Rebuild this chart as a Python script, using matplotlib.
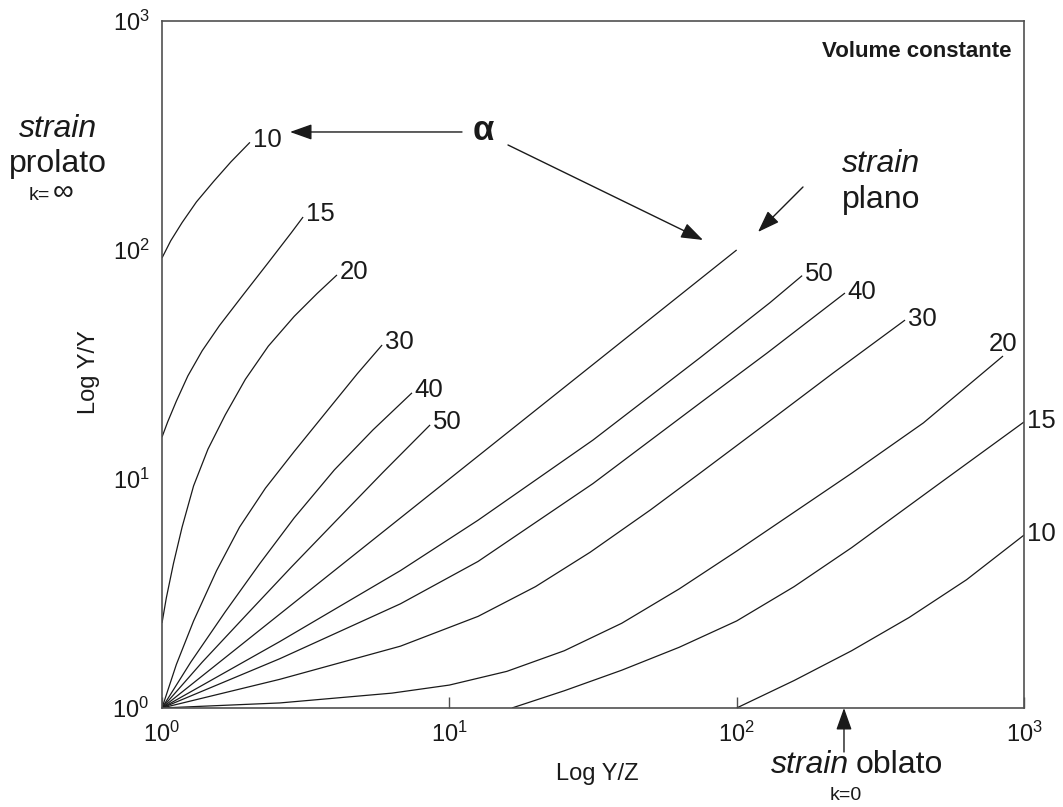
import matplotlib.pyplot as plt
from matplotlib.ticker import NullLocator

plt.rcParams['font.family'] = ['Liberation Sans', 'DejaVu Sans']
plt.rcParams['mathtext.fontset'] = 'custom'
plt.rcParams['mathtext.rm'] = 'Liberation Sans'
plt.rcParams['mathtext.it'] = 'Liberation Sans:italic'

# curvas do lado prolato (Y/Z, X/Y)
pro10_x = [1, 1.072, 1.175, 1.318, 1.514, 1.738, 2.023]
pro10_y = [92.3, 109.6, 131.8, 162.2, 199.5, 242.7, 295.1]
pro15_x = [1, 1.047, 1.122, 1.230, 1.380, 1.585, 1.905, 2.344, 2.818, 3.097]
pro15_y = [15.24, 17.78, 21.88, 28.18, 36.31, 46.77, 63.1, 88.1, 118.9, 139.3]
pro20_x = [1, 1.035, 1.096, 1.175, 1.288, 1.445, 1.660, 1.950, 2.344, 2.884, 3.467, 4.064]
pro20_y = [2.35, 3.02, 4.27, 6.17, 9.33, 13.49, 19.05, 27.23, 38.02, 51.29, 64.57, 77.8]
pro30_x = [1, 1.122, 1.288, 1.549, 1.862, 2.291, 2.884, 3.715, 4.786, 5.834]
pro30_y = [1, 1.549, 2.399, 3.981, 6.166, 9.12, 13.18, 19.5, 28.84, 38.46]
pro40_x = [1, 1.259, 1.660, 2.188, 2.884, 3.981, 5.420, 7.413]
pro40_y = [1, 1.585, 2.630, 4.266, 6.761, 10.96, 16.37, 23.77]
pro50_x = [1, 1.380, 1.995, 2.818, 3.981, 5.888, 8.570]
pro50_y = [1, 1.585, 2.600, 4.121, 6.457, 10.72, 17.22]

# strain plano
plane_x = [1, 100]
plane_y = [1, 100]

# curvas do lado oblato
obl50_x = [1, 2.570, 6.761, 12.59, 31.62, 74.65, 130.6, 169.0]
obl50_y = [1, 1.950, 3.981, 6.607, 14.79, 33.88, 58.88, 77.27]
obl40_x = [1, 2.570, 6.761, 12.59, 31.62, 74.65, 127.6, 238.2]
obl40_y = [1, 1.641, 2.851, 4.365, 9.55, 21.48, 35.48, 64.86]
obl30_x = [1, 2.570, 6.761, 12.59, 19.95, 30.9, 50.12, 74.65, 127.6, 216.8, 385.5]
obl30_y = [1, 1.334, 1.862, 2.512, 3.388, 4.786, 7.328, 10.62, 17.58, 29.04, 49.43]
obl20_x = [1, 2.570, 6.310, 10, 15.85, 25.12, 39.81, 63.1, 100, 158.5, 251.2, 446.7, 845.3]
obl20_y = [1, 1.052, 1.161, 1.259, 1.445, 1.778, 2.344, 3.311, 4.842, 7.161, 10.59, 17.58, 34.43]
obl15_x = [16.52, 25.12, 39.81, 63.1, 100, 158.5, 251.2, 501.2, 1000]
obl15_y = [1, 1.189, 1.462, 1.841, 2.399, 3.388, 5.012, 9.441, 17.74]
obl10_x = [100, 158.5, 251.2, 398.1, 631, 1000]
obl10_y = [1, 1.318, 1.778, 2.483, 3.631, 5.689]

prolato = [('10', pro10_x, pro10_y), ('15', pro15_x, pro15_y), ('20', pro20_x, pro20_y),
           ('30', pro30_x, pro30_y), ('40', pro40_x, pro40_y), ('50', pro50_x, pro50_y)]
oblato = [('50', obl50_x, obl50_y), ('40', obl40_x, obl40_y), ('30', obl30_x, obl30_y),
          ('20', obl20_x, obl20_y), ('15', obl15_x, obl15_y), ('10', obl10_x, obl10_y)]

fig = plt.figure(figsize=(10.63, 8.07), dpi=100)
ax = fig.add_axes([0.1524, 0.1227, 0.8109, 0.8513])
ax.set_xscale('log')
ax.set_yscale('log')
ax.set_xlim(1, 1000)
ax.set_ylim(1, 1000)
ax.xaxis.set_minor_locator(NullLocator())
ax.yaxis.set_minor_locator(NullLocator())

line_kw = dict(color='#1a1a1a', lw=0.9, solid_capstyle='butt', solid_joinstyle='round')
lab_kw = dict(fontsize=18.5, textcoords='offset points', annotation_clip=False, color='#1a1a1a')

for lab, xs, ys in prolato:
    ax.plot(xs, ys, **line_kw)
    ax.annotate(lab, (xs[-1], ys[-1]), xytext=(2, 2), ha='left', va='center', **lab_kw)

ax.plot(plane_x, plane_y, **line_kw)

for lab, xs, ys in oblato:
    ax.plot(xs, ys, **line_kw)
    if lab == '20':
        ax.annotate(lab, (xs[-1], ys[-1]), xytext=(0, 0), ha='center', va='bottom', **lab_kw)
    else:
        ax.annotate(lab, (xs[-1], ys[-1]), xytext=(2, 1), ha='left', va='center', **lab_kw)

for s in ax.spines.values():
    s.set_color('#505050')
    s.set_linewidth(1.2)
ax.tick_params(axis='x', direction='in', length=8, width=1, color='#505050', pad=10,
               labelsize=17, labelcolor='#1a1a1a')
ax.tick_params(axis='y', length=0, pad=9, labelsize=17, labelcolor='#1a1a1a')

ax.set_xlabel('Log Y/Z', fontsize=17, color='#1a1a1a')
ax.set_ylabel('Log Y/Y', fontsize=17, color='#1a1a1a')
ax.xaxis.set_label_coords(0.505, -0.080)
ax.yaxis.set_label_coords(-0.072, 0.489)


def af(x, y):
    # pixel do desenho -> fração dos eixos
    return ((x - 162) / 862, (708 - y) / 687)


txt_kw = dict(transform=ax.transAxes, clip_on=False, color='#1a1a1a')
ax.text(*af(1012, 52), 'Volume constante', fontsize=16, fontweight='bold',
        ha='right', va='center', **txt_kw)

ax.text(*af(58, 137), 'strain', fontsize=23, style='italic', ha='center', va='baseline', **txt_kw)
ax.text(*af(58, 172), 'prolato', fontsize=23, ha='center', va='baseline', **txt_kw)
ax.text(*af(50, 200), 'k=', fontsize=14, ha='right', va='baseline', **txt_kw)
ax.text(*af(53, 200), '∞', fontsize=21, ha='left', va='baseline', **txt_kw)

ax.text(*af(842, 172), 'strain', fontsize=23, style='italic', ha='left', va='baseline', **txt_kw)
ax.text(*af(842, 208), 'plano', fontsize=23, ha='left', va='baseline', **txt_kw)

ax.text(*af(849, 773), 'strain', fontsize=23, style='italic', ha='right', va='baseline', **txt_kw)
ax.text(*af(856, 773), 'oblato', fontsize=23, ha='left', va='baseline', **txt_kw)
ax.text(*af(846, 800), 'k=0', fontsize=14, ha='center', va='baseline', **txt_kw)

ax.text(*af(483, 131), 'α', fontsize=25, fontweight='bold', ha='center', va='center', **txt_kw)

arr = dict(arrowstyle='-|>,head_length=0.9,head_width=0.32', color='#1a1a1a', lw=1,
           shrinkA=0, shrinkB=0, mutation_scale=15)
for start, tip in [((462, 132), (290, 132)), ((508, 145), (703, 240)),
                   ((803, 187), (758, 232)), ((844, 752), (844, 708))]:
    ax.annotate('', xy=af(*tip), xytext=af(*start), xycoords='axes fraction',
                textcoords='axes fraction', arrowprops=arr, annotation_clip=False)

fig.savefig('out.png', dpi=100, facecolor='white')
